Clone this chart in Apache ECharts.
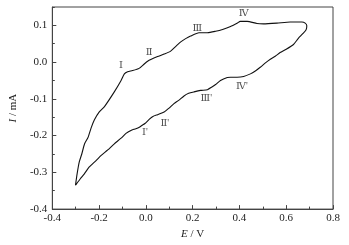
<!DOCTYPE html>
<html>
<head>
<meta charset="utf-8">
<script src="https://cdn.jsdelivr.net/npm/echarts@6/dist/echarts.min.js"></script>
<style>
html,body{margin:0;padding:0;background:#fff;}
#cv{width:349px;height:245px;}
</style>
</head>
<body>
<div id="cv"></div>
<script>
// one full CV cycle, starting at the cathodic turning point
// potential in V, current in mA
var potential = [-0.301,-0.294,-0.285,-0.274,-0.262,-0.248,-0.234,-0.220,-0.200,-0.177,-0.135,-0.106,-0.092,-0.078,-0.057,-0.029,-0.007,0.009,0.021,0.050,0.078,0.106,0.128,0.149,0.170,0.191,0.227,0.263,0.298,0.328,0.362,0.390,0.404,0.433,0.475,0.503,0.560,0.617,0.667,0.681,0.688,0.685,0.672,0.651,0.631,0.600,0.574,0.553,0.532,0.511,0.489,0.468,0.447,0.418,0.390,0.362,0.348,0.319,0.298,0.284,0.263,0.234,0.206,0.183,0.163,0.140,0.120,0.099,0.078,0.050,0.030,0.014,-0.004,-0.014,-0.030,-0.047,-0.064,-0.085,-0.106,-0.136,-0.163,-0.191,-0.213,-0.243,-0.263,-0.281,-0.294,-0.301];
var current = [-0.335,-0.304,-0.272,-0.250,-0.222,-0.206,-0.179,-0.157,-0.136,-0.121,-0.081,-0.050,-0.032,-0.026,-0.023,-0.017,-0.005,0.003,0.007,0.015,0.022,0.030,0.043,0.055,0.064,0.071,0.080,0.080,0.084,0.089,0.097,0.106,0.111,0.111,0.105,0.104,0.106,0.109,0.109,0.106,0.099,0.088,0.078,0.064,0.048,0.035,0.026,0.016,0.008,-0.002,-0.014,-0.024,-0.032,-0.039,-0.041,-0.041,-0.042,-0.050,-0.061,-0.067,-0.075,-0.077,-0.081,-0.085,-0.092,-0.104,-0.113,-0.125,-0.136,-0.143,-0.148,-0.156,-0.167,-0.171,-0.178,-0.182,-0.186,-0.194,-0.207,-0.223,-0.239,-0.254,-0.268,-0.286,-0.304,-0.318,-0.329,-0.335];

// peak labels
var peakNames = ['Ⅰ','Ⅱ','Ⅲ','Ⅳ',"Ⅰ'","Ⅱ'","Ⅲ'","Ⅳ'"];
var peakE = [-0.106,0.014,0.220,0.418,-0.004,0.081,0.258,0.411];
var peakI = [-0.010,0.026,0.093,0.133,-0.192,-0.166,-0.099,-0.067];

var chart = echarts.init(document.getElementById('cv'));
var serif = "'Liberation Serif', 'DejaVu Serif', serif";

var loop = potential.map(function (e, i) { return [e, current[i]]; });
var peaks = peakE.map(function (e, i) { return { value: [e, peakI[i]], name: peakNames[i] }; });

var option = {
    animation: false,
    grid: {
        left: 51, right: 16, top: 7, bottom: 33,
        show: true, borderColor: '#444', borderWidth: 1
    },
    xAxis: {
        type: 'value',
        min: -0.4, max: 0.8, interval: 0.2,
        name: '{i|E} / V',
        nameLocation: 'middle',
        nameGap: 17,
        nameTextStyle: { fontFamily: serif, fontSize: 11, color: '#222', rich: { i: { fontStyle: 'italic', fontFamily: serif, fontSize: 11, color: '#222' } } },
        axisLine: { onZero: false, lineStyle: { color: '#444' } },
        axisTick: { inside: true, length: 4, lineStyle: { color: '#444' } },
        minorTick: { show: true, splitNumber: 2, length: 2.5, lineStyle: { color: '#444' } },
        axisLabel: { fontFamily: serif, fontSize: 11, color: '#222', margin: 4, formatter: function (v) { return v.toFixed(1); } },
        splitLine: { show: false }
    },
    yAxis: [{
        type: 'value',
        min: -0.4, max: 0.15, interval: 0.1,
        name: '{i|I} / mA',
        nameLocation: 'middle',
        nameGap: 30,
        nameTextStyle: { fontFamily: serif, fontSize: 11, color: '#222', rich: { i: { fontStyle: 'italic', fontFamily: serif, fontSize: 11, color: '#222' } } },
        axisLine: { onZero: false, lineStyle: { color: '#444' } },
        axisTick: { inside: true, length: 4, lineStyle: { color: '#444' } },
        axisLabel: { fontFamily: serif, fontSize: 11, color: '#222', margin: 5, showMaxLabel: false, formatter: function (v) { return v.toFixed(1); } },
        splitLine: { show: false }
    }, {
        // minor ticks every 0.05
        type: 'value',
        position: 'left',
        min: -0.4, max: 0.15, interval: 0.05,
        axisLine: { show: false, onZero: false },
        axisTick: { inside: true, length: 2.5, lineStyle: { color: '#444' } },
        axisLabel: { show: false },
        splitLine: { show: false }
    }],
    series: [{
        type: 'line',
        data: loop,
        showSymbol: false,
        smooth: 0.2,
        lineStyle: { color: '#111', width: 1.1 }
    }, {
        type: 'scatter',
        data: peaks,
        symbolSize: 1,
        itemStyle: { color: 'rgba(0,0,0,0)' },
        label: {
            show: true, position: 'inside',
            formatter: '{b}',
            fontFamily: serif, fontSize: 10, color: '#222'
        }
    }]
};
chart.setOption(option);
</script>
</body>
</html>
